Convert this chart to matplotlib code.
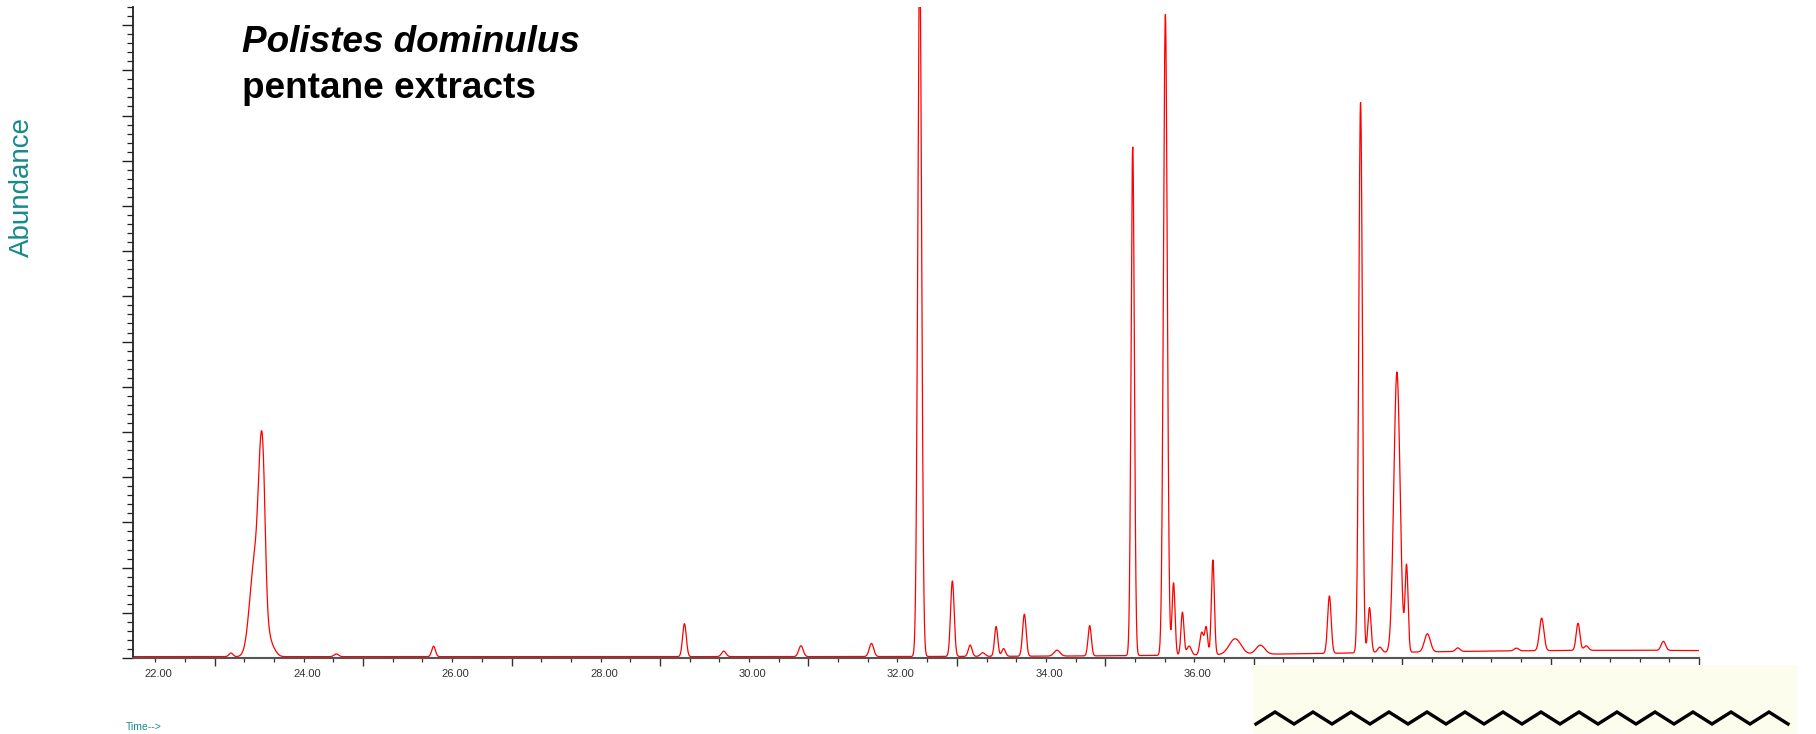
import numpy as np

import matplotlib
matplotlib.use('Agg')
import matplotlib.pyplot as plt
from matplotlib import transforms
from matplotlib.lines import Line2D
from matplotlib.patches import Rectangle
from matplotlib.ticker import MultipleLocator, FormatStrFormatter


# Peak table: retention time (min), height (abundance units), width sigma (min)
peak_times = [22.22, 22.54, 22.63, 22.665, 22.71, 22.77,
              23.64, 24.95, 28.33, 28.86, 29.90, 30.85,
              31.50, 31.94, 32.18, 32.35, 32.53, 32.63, 32.91, 33.35, 33.79,
              34.37, 34.81, 34.92, 35.04, 35.13, 35.30, 35.36, 35.45,
              35.75, 36.09, 37.02, 37.44, 37.56, 37.70, 37.93, 38.06, 38.34,
              38.75, 39.54, 39.88, 40.37, 40.48, 41.52]
peak_heights = [0.08, 2.1, 3.7, 0.9, 0.35, 0.2,
                0.06, 0.23, 0.73, 0.12, 0.24, 0.29,
                15.5, 1.67, 0.25, 0.08, 0.66, 0.17, 0.93, 0.13, 0.67,
                11.26, 14.18, 1.6, 0.95, 0.2, 0.5, 0.6, 2.1,
                0.35, 0.2, 1.27, 12.2, 1.0, 0.12, 6.2, 1.9, 0.4,
                0.08, 0.06, 0.72, 0.6, 0.1, 0.2]
peak_widths = [0.027, 0.067, 0.040, 0.027, 0.040, 0.054,
               0.03, 0.025, 0.025, 0.03, 0.03, 0.03,
               0.026, 0.024, 0.025, 0.03, 0.022, 0.025, 0.024, 0.04, 0.022,
               0.022, 0.026, 0.02, 0.02, 0.03, 0.025, 0.02, 0.02,
               0.08, 0.06, 0.024, 0.024, 0.022, 0.03, 0.042, 0.02, 0.04,
               0.03, 0.03, 0.03, 0.025, 0.03, 0.03]

# Baseline: constant offset plus a slow rise toward the end of the run
baseline_level = 0.03
drift_time, drift_height, drift_width = 41.0, 0.14, 3.5

x_major_ticks = [22, 24, 26, 28, 30, 32, 34, 36, 38, 40, 42]

# Chain drawn in the inset box (number of carbons)
n_carbons = 29

teal = '#178a8a'

plt.rcParams['font.family'] = ['Liberation Sans', 'DejaVu Sans']

fig = plt.figure(figsize=(18.16, 7.34), dpi=100)
ax = fig.add_axes([133 / 1816, 76 / 734, 1566 / 1816, 651 / 734])

t = np.linspace(20.9, 42.0, 6000)
signal = np.full_like(t, baseline_level)
signal += drift_height * np.exp(-(t - drift_time) ** 2 / (2 * drift_width ** 2))
for rt, h, w in zip(peak_times, peak_heights, peak_widths):
    signal += h * np.exp(-(t - rt) ** 2 / (2 * w ** 2))

ax.plot(t, signal, color='#ff0000', linewidth=0.9)

ax.set_xlim(20.9, 42.0)
ax.set_ylim(0, 14.4)

for side in ['top', 'right']:
    ax.spines[side].set_visible(False)
ax.spines['left'].set_color('#222222')
ax.spines['left'].set_linewidth(1.3)
ax.spines['bottom'].set_color('#555555')
ax.spines['bottom'].set_linewidth(1.5)

ax.set_xticks(x_major_ticks)
ax.xaxis.set_major_formatter(FormatStrFormatter('%.2f'))
ax.xaxis.set_minor_locator(MultipleLocator(0.4))
ax.yaxis.set_major_locator(MultipleLocator(1))
ax.yaxis.set_minor_locator(MultipleLocator(0.2))
ax.tick_params(axis='x', which='major', direction='out', length=5.8,
               width=1.0, color='#333333', labelsize=8,
               labelcolor='#333333', pad=2)
ax.tick_params(axis='x', which='minor', direction='out', length=2.9,
               width=0.9, color='#333333')
ax.tick_params(axis='y', which='major', direction='out', length=7.9,
               width=1.0, color='#222222', labelleft=False)
ax.tick_params(axis='y', which='minor', direction='out', length=4.3,
               width=0.9, color='#222222')

# time labels sit a little to the left of their tick marks
offset = transforms.ScaledTranslation(-0.56, 0, fig.dpi_scale_trans)
for label in ax.xaxis.get_majorticklabels():
    label.set_transform(label.get_transform() + offset)

fig.text(22 / 1816, 1 - 187 / 734, 'Abundance', rotation=90, color=teal,
         fontsize=20, ha='center', va='center')
fig.text(126 / 1816, 1 - 727 / 734, 'Time-->', color=teal, fontsize=7.5,
         ha='left', va='center')

fig.text(242 / 1816, 1 - 52 / 734, 'Polistes dominulus', fontsize=26.6,
         fontweight='bold', fontstyle='italic', ha='left', va='baseline')
fig.text(242 / 1816, 1 - 98 / 734, 'pentane extracts', fontsize=26.6,
         fontweight='bold', ha='left', va='baseline')

# inset box with the hydrocarbon chain
box = Rectangle((1253 / 1816, 0), 544 / 1816, 69 / 734,
                transform=fig.transFigure, facecolor='#fdfdee',
                edgecolor='none', zorder=10)
fig.patches.append(box)

chain_x = (1256 + 19 * np.arange(n_carbons)) / 1816
chain_y = np.where(np.arange(n_carbons) % 2 == 0, 10 / 734, 22 / 734)
fig.lines.append(Line2D(chain_x, chain_y, transform=fig.transFigure,
                        color='black', linewidth=2.4, zorder=11,
                        solid_joinstyle='miter'))

plt.savefig('out.png', dpi=100)
plt.close(fig)
